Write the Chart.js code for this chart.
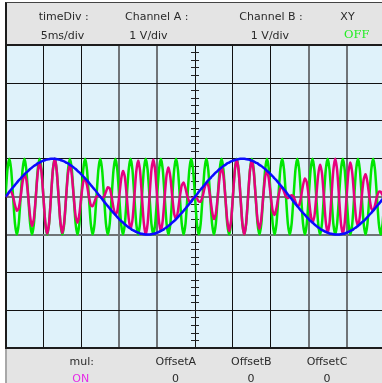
<!DOCTYPE html>
<html>
<head>
<meta charset="utf-8">
<script src="https://cdn.jsdelivr.net/npm/chart.js@4"></script>
<style>
  html, body { margin: 0; padding: 0; background: #fff; }
  body { width: 382px; height: 383px; overflow: hidden; position: relative;
         font-family: 'DejaVu Sans', sans-serif; font-size: 11px; color: #2a2a2a; }
  .panel { position: absolute; left: 5px; width: 390px; background: #e4e4e4; box-sizing: border-box; }
  #topPanel { top: 2px; height: 44px; border-left: 2px solid #1c1c1c; border-top: 1px solid #444; }
  #bottomPanel { top: 348px; height: 40px; border-left: 2px solid #a8a8a8; }
  .lbl { position: absolute; line-height: 1; white-space: nowrap; transform: translateX(-50%); }
  #scope { position: absolute; left: 0; top: 0; }
</style>
</head>
<body>
<div class="panel" id="topPanel"></div>
<div class="panel" id="bottomPanel"></div>
<canvas id="scope" width="392" height="383"></canvas>
<script>
// panel texts
const topNames = ['timeDiv :', 'Channel A :', 'Channel B :', 'XY'];
const topValues = ['5ms/div', '1 V/div', '1 V/div', 'OFF'];
const bottomNames = ['mul:', 'OffsetA', 'OffsetB', 'OffsetC'];
const bottomValues = ['ON', '0', '0', '0'];

// samples every 0.25 ms, 0 .. 50 ms (10 div x 5 ms)
const sampleMs = 0.25;

// channel B (blue, 40 Hz)
const channelB = [
  0, .06, .13, .19, .25, .31, .37, .43, .48, .54, .59, .64, .68, .73, .77, .81, .84, .88, .90, .93,
  .95, .97, .98, .99, 1, 1, 1, .99, .98, .97, .95, .93, .90, .88, .84, .81, .77, .73, .68, .64,
  .59, .54, .48, .43, .37, .31, .25, .19, .13, .06, 0, -.06, -.13, -.19, -.25, -.31, -.37, -.43, -.48, -.54,
  -.59, -.64, -.68, -.73, -.77, -.81, -.84, -.88, -.90, -.93, -.95, -.97, -.98, -.99, -1, -1, -1, -.99, -.98, -.97,
  -.95, -.93, -.90, -.88, -.84, -.81, -.77, -.73, -.68, -.64, -.59, -.54, -.48, -.43, -.37, -.31, -.25, -.19, -.13, -.06,
  0, .06, .13, .19, .25, .31, .37, .43, .48, .54, .59, .64, .68, .73, .77, .81, .84, .88, .90, .93,
  .95, .97, .98, .99, 1, 1, 1, .99, .98, .97, .95, .93, .90, .88, .84, .81, .77, .73, .68, .64,
  .59, .54, .48, .43, .37, .31, .25, .19, .13, .06, 0, -.06, -.13, -.19, -.25, -.31, -.37, -.43, -.48, -.54,
  -.59, -.64, -.68, -.73, -.77, -.81, -.84, -.88, -.90, -.93, -.95, -.97, -.98, -.99, -1, -1, -1, -.99, -.98, -.97,
  -.95, -.93, -.90, -.88, -.84, -.81, -.77, -.73, -.68, -.64, -.59, -.54, -.48, -.43, -.37, -.31, -.25, -.19, -.13, -.06,
  0
];

// channel A (green, 500 Hz)
const channelA = [
  0, .71, 1, .71, 0, -.71, -1, -.71, 0, .71, 1, .71, 0, -.71, -1, -.71, 0, .71, 1, .71, 0, -.71, -1, -.71,
  0, .71, 1, .71, 0, -.71, -1, -.71, 0, .71, 1, .71, 0, -.71, -1, -.71, 0, .71, 1, .71, 0, -.71, -1, -.71,
  0, .71, 1, .71, 0, -.71, -1, -.71, 0, .71, 1, .71, 0, -.71, -1, -.71, 0, .71, 1, .71, 0, -.71, -1, -.71,
  0, .71, 1, .71, 0, -.71, -1, -.71, 0, .71, 1, .71, 0, -.71, -1, -.71, 0, .71, 1, .71, 0, -.71, -1, -.71,
  0, .71, 1, .71, 0, -.71, -1, -.71, 0, .71, 1, .71, 0, -.71, -1, -.71, 0, .71, 1, .71, 0, -.71, -1, -.71,
  0, .71, 1, .71, 0, -.71, -1, -.71, 0, .71, 1, .71, 0, -.71, -1, -.71, 0, .71, 1, .71, 0, -.71, -1, -.71,
  0, .71, 1, .71, 0, -.71, -1, -.71, 0, .71, 1, .71, 0, -.71, -1, -.71, 0, .71, 1, .71, 0, -.71, -1, -.71,
  0, .71, 1, .71, 0, -.71, -1, -.71, 0, .71, 1, .71, 0, -.71, -1, -.71, 0, .71, 1, .71, 0, -.71, -1, -.71,
  0, .71, 1, .71, 0, -.71, -1, -.71,
  0
];

// A x B (magenta)
const product = [
  0, .04, .13, .13, 0, -.22, -.37, -.30, 0, .38, .59, .45, 0, -.52, -.77, -.57, 0, .62, .90, .66,
  0, -.69, -.98, -.70, 0, .71, 1, .70, 0, -.69, -.95, -.66, 0, .62, .84, .57, 0, -.52, -.68, -.45,
  0, .38, .48, .30, 0, -.22, -.25, -.13, 0, .04, 0, -.04, 0, .13, .25, .22, 0, -.30, -.48, -.38,
  0, .45, .68, .52, 0, -.57, -.84, -.62, 0, .66, .95, .69, 0, -.70, -1, -.71, 0, .70, .98, .69,
  0, -.66, -.90, -.62, 0, .57, .77, .52, 0, -.45, -.59, -.38, 0, .30, .37, .22, 0, -.13, -.13, -.04,
  0, -.04, -.13, -.13, 0, .22, .37, .30, 0, -.38, -.59, -.45, 0, .52, .77, .57, 0, -.62, -.90, -.66,
  0, .69, .98, .70, 0, -.71, -1, -.70, 0, .69, .95, .66, 0, -.62, -.84, -.57, 0, .52, .68, .45,
  0, -.38, -.48, -.30, 0, .22, .25, .13, 0, -.04, 0, .04, 0, -.13, -.25, -.22, 0, .30, .48, .38,
  0, -.45, -.68, -.52, 0, .57, .84, .62, 0, -.66, -.95, -.69, 0, .70, 1, .71, 0, -.70, -.98, -.69,
  0, .66, .90, .62, 0, -.57, -.77, -.52, 0, .45, .59, .38, 0, -.30, -.37, -.22, 0, .13, .13, .04,
  0
];

const timeLabels = channelB.map((v, i) => i * sampleMs);

// panel text
function addLabel(text, cx, top, extra) {
  const el = document.createElement('div');
  el.className = 'lbl';
  el.textContent = text;
  el.style.left = cx + 'px';
  el.style.top = top + 'px';
  if (extra) Object.assign(el.style, extra);
  document.body.appendChild(el);
}
const topNameX = [63.7, 156.7, 271, 347.5];
const topValueX = [62.5, 148.5, 270, 356.7];
const bottomX = [81.7, 175.8, 251.3, 327];
const bottomValueX = [80.8, 175.5, 251, 327];
topNames.forEach((t, i) => addLabel(t, topNameX[i], 11.2));
topValues.forEach((t, i) => addLabel(t, topValueX[i], 29.7,
  i === 3 ? { fontFamily: "'DejaVu Serif', serif", fontSize: '11.5px', color: '#22ee22', top: '28.6px' } : null));
bottomNames.forEach((t, i) => addLabel(t, bottomX[i], 355.7));
bottomValues.forEach((t, i) => addLabel(t, bottomValueX[i], 373.2, i === 0 ? { color: '#e62ce6' } : null));

const screenBg = {
  id: 'screenBg',
  beforeDraw(chart) {
    const { ctx, chartArea: a } = chart;
    ctx.save();
    ctx.fillStyle = '#dff2fa';
    ctx.fillRect(a.left, a.top, a.right - a.left, a.bottom - a.top);
    ctx.restore();
  }
};

const DARK = '#1c1c1c';
const GRAY = '#6f7477';
const grayX = [15, 20, 40, 45];
const grayY = [0, -1];

new Chart(document.getElementById('scope'), {
  type: 'line',
  data: {
    labels: timeLabels,
    datasets: [
      { label: 'B', data: channelB, borderColor: '#0a0aff', borderWidth: 2.5, yAxisID: 'y' },
      { label: 'A x B', data: product, borderColor: '#e6007e', borderWidth: 2.5, yAxisID: 'y' },
      { label: 'A', data: channelA, borderColor: '#00e600', borderWidth: 2.5, yAxisID: 'y' }
    ]
  },
  options: {
    responsive: false,
    animation: false,
    events: [],
    layout: { padding: { left: 5.5, right: 7.5, top: 45.1, bottom: 34.7 } },
    elements: { point: { radius: 0 }, line: { tension: 0.2 } },
    plugins: { legend: { display: false }, tooltip: { enabled: false } },
    scales: {
      x: {
        type: 'linear', min: 0, max: 50,
        ticks: { display: false, stepSize: 5 },
        grid: {
          drawTicks: false,
          color: c => c.tick.value === 0 ? DARK : grayX.includes(c.tick.value) ? GRAY : '#111',
          lineWidth: c => (c.tick.value === 0 || grayX.includes(c.tick.value)) ? 2 : 1
        },
        border: { display: true, color: DARK, width: 2 }
      },
      y: {
        type: 'linear', min: -4, max: 4,
        ticks: { display: false, stepSize: 1 },
        grid: {
          drawTicks: false,
          color: c => Math.abs(c.tick.value) === 4 ? DARK : grayY.includes(c.tick.value) ? GRAY : '#111',
          lineWidth: c => Math.abs(c.tick.value) === 4 ? 2 : grayY.includes(c.tick.value) ? 2 : 1
        },
        border: { display: true, color: DARK, width: 2 }
      },
      y2: {
        type: 'linear', position: { x: 25.53 }, min: -4, max: 4,
        ticks: { display: false, stepSize: 0.2 },
        grid: { drawOnChartArea: false, drawTicks: true, tickLength: 8, color: '#222', lineWidth: 1 },
        border: { display: false }
      }
    }
  },
  plugins: [screenBg]
});
</script>
</body>
</html>
